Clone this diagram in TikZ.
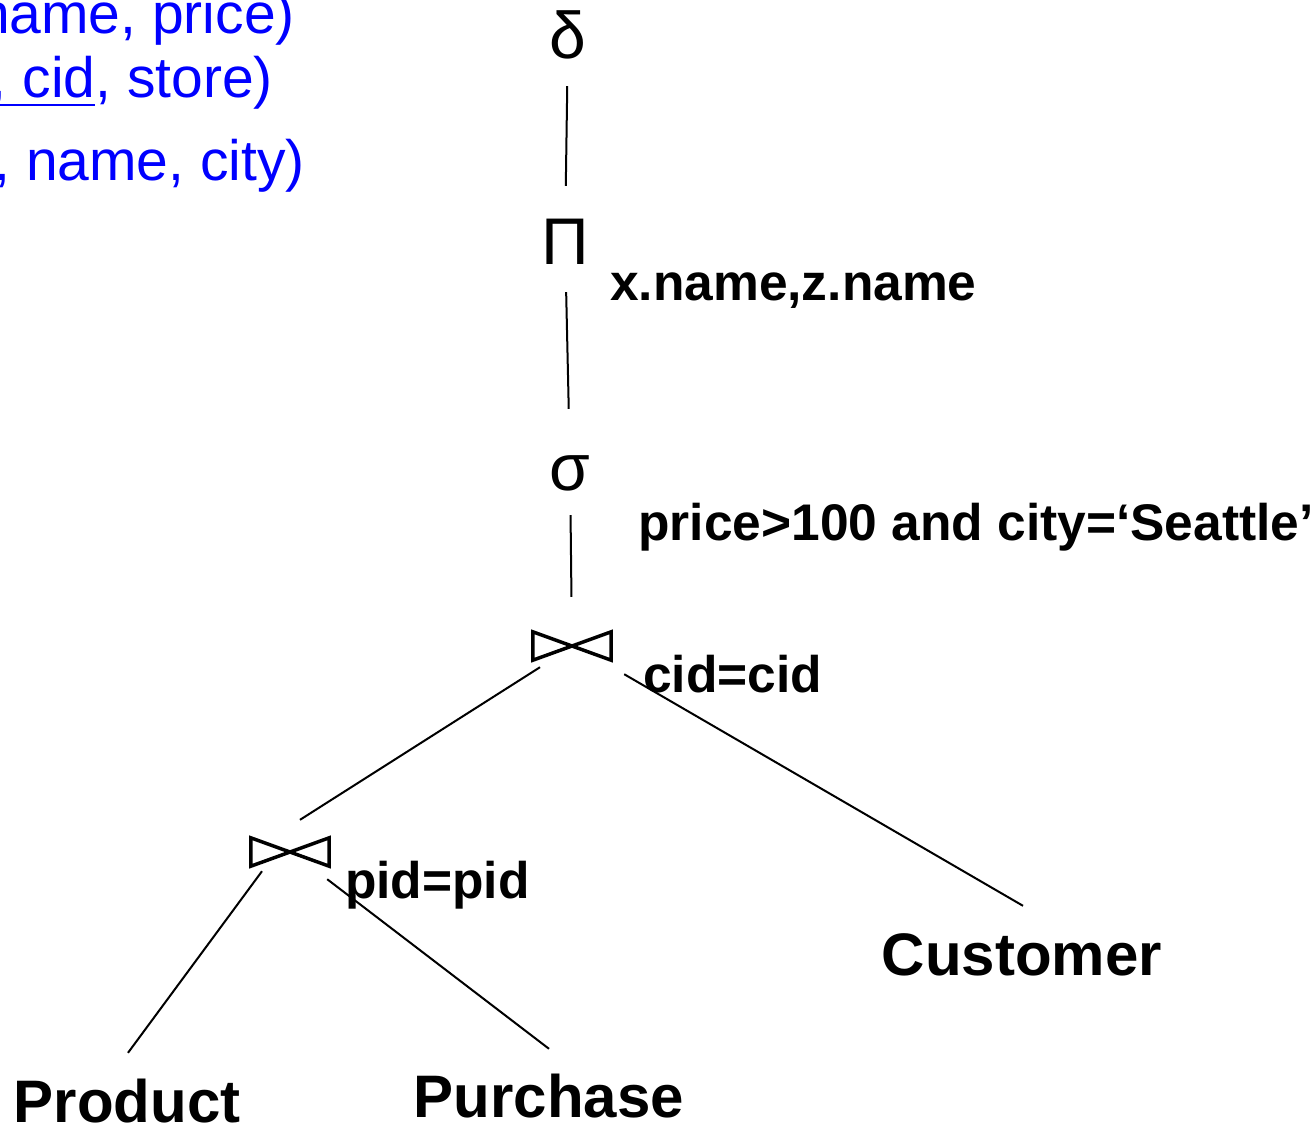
\documentclass[tikz,border=0pt]{standalone}
\usepackage{fontspec}
\setmainfont{Liberation Sans}
% underline for the key attributes
\newcommand\lineunder[1]{\setbox0\hbox{#1}\rlap{\rule[-9pt]{\wd0}{2.2pt}}\box0}
\tikzset{
  opsym/.style={font=\fontsize{66}{70}\selectfont, inner sep=0pt, text height=48pt, text depth=0pt, anchor=base},
  joinop/.style={minimum width=78pt, minimum height=28pt, inner sep=0pt},
  relname/.style={font=\fontsize{60}{66}\selectfont\bfseries, inner sep=0pt, text height=43pt, text depth=0pt, anchor=base},
  condlabel/.style={font=\fontsize{51.5}{56}\selectfont\bfseries, inner sep=0pt, anchor=base west},
  schema/.style={font=\fontsize{57}{62}\selectfont, text=blue, inner sep=0pt, anchor=base east},
  treeline/.style={line width=2pt},
}
\begin{document}
\begin{tikzpicture}[x=1pt,y=-1pt]
\useasboundingbox (0,0) rectangle (1316,1128);
\clip (0,0) rectangle (1316,1128);
% schema, cut off at the left
\node[schema] (prodschema) at (295,33) {name, price)};
\node[schema] (purchschema) at (273,97) {\lineunder{, cid}, store)};
\node[schema] (custschema) at (305,180) {, name, city)};
% operators
\node[opsym] (delta) at (568,58) {δ};
\node[opsym] (proj) at (565,264) {Π};
\node[opsym] (sel) at (570,490) {σ};
\node[joinop] (join1) at (572,646) {};
\node[joinop] (join2) at (290,852) {};
\foreach \j in {join1,join2}
  \draw[line width=3.5pt] (\j.north west) -- (\j.south east) -- (\j.north east) -- (\j.south west) -- cycle;
% conditions
\node[condlabel] (projattr) at (610,300) {x.name,z.name};
\node[condlabel] (selcond) at (638,540) {price>100 and city=‘Seattle’};
\node[condlabel] (cidcond) at (643,692) {cid=cid};
\node[condlabel] (pidcond) at (345,898) {pid=pid};
% relations
\node[relname] (customer) at (1022,975) {Customer};
\node[relname] (product) at (127,1122) {Product};
\node[relname] (purchase) at (549,1117) {Purchase};
% tree
\draw[treeline, shorten <=28pt, shorten >=30pt] (delta) -- (proj);
\draw[treeline, shorten <=28pt, shorten >=33pt] (proj) -- (sel);
\draw[treeline, shorten <=25pt, shorten >=35pt] (sel) -- (join1);
\draw[treeline] ([xshift=-32pt,yshift=-7pt]join1.south) -- ([xshift=10pt,yshift=18pt]join2.north);
\draw[treeline] ([xshift=13pt,yshift=-14pt]join1.south east) -- ([xshift=1pt,yshift=26pt]customer.north);
\draw[treeline] ([xshift=-28pt,yshift=-5pt]join2.south) -- ([xshift=1pt,yshift=26pt]product.north);
\draw[treeline] ([xshift=-2pt,yshift=-13pt]join2.south east) -- ([yshift=25pt]purchase.north);
\end{tikzpicture}
\end{document}
